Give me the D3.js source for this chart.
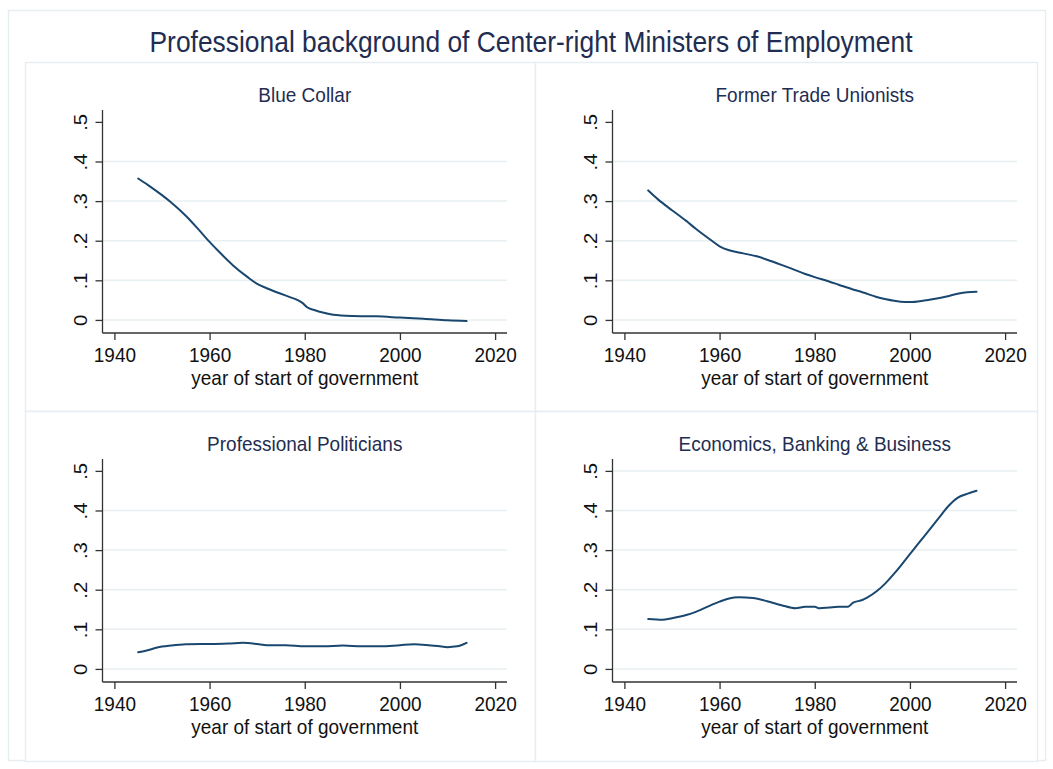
<!DOCTYPE html>
<html>
<head>
<meta charset="utf-8">
<script src="https://cdn.jsdelivr.net/npm/d3@7"></script>
<style>
  html, body { margin: 0; padding: 0; background: #fff; }
  svg { display: block; font-family: "Liberation Sans", Arial, Helvetica, sans-serif; }
</style>
</head>
<body>
<svg id="chart" width="1053" height="769"></svg>
<script>
// Lowess-smoothed shares by year of start of government
const blueCollar = [
  [1945, .357], [1947, .341], [1950, .315], [1952, .296], [1955, .263], [1958, .224],
  [1960, .197], [1962, .172], [1965, .137], [1968, .108], [1970, .091], [1972, .080],
  [1975, .066], [1977, .057], [1978.5, .050], [1979.5, .043], [1980.5, .032], [1982, .025],
  [1984, .018], [1986, .013], [1990, .010], [1995, .009], [2000, .006], [2005, .003],
  [2010, -.001], [2014, -.003]
];
const tradeUnionists = [
  [1945, .327], [1947, .305], [1950, .277], [1953, .250], [1955, .230], [1958, .203],
  [1960, .186], [1962, .176], [1965, .168], [1968, .160], [1970, .152], [1973, .139],
  [1975, .130], [1978, .116], [1980, .108], [1983, .097], [1985, .089], [1988, .077],
  [1990, .070], [1993, .058], [1995, .052], [1998, .046], [2000, .045], [2003, .049],
  [2005, .053], [2008, .060], [2010, .066], [2012, .070], [2014, .071]
];
const politicians = [
  [1945, .042], [1947, .047], [1949, .054], [1952, .059], [1955, .062], [1960, .063],
  [1964, .064], [1967, .066], [1970, .063], [1972, .060], [1976, .060], [1980, .057],
  [1984, .057], [1988, .059], [1992, .057], [1996, .057], [2000, .060], [2003, .062],
  [2006, .060], [2008, .058], [2010, .055], [2012, .057], [2014, .066]
];
const economics = [
  [1945, .126], [1948, .124], [1950, .128], [1953, .136], [1955, .144], [1958, .160],
  [1960, .170], [1962, .178], [1964, .181], [1967, .179], [1970, .171], [1973, .161],
  [1976, .153], [1978, .157], [1980, .157], [1981, .153], [1983, .155], [1985, .157],
  [1987, .157], [1988, .167], [1990, .174], [1991, .180], [1993, .196], [1995, .218],
  [1997, .245], [2000, .290], [2002, .320], [2004, .350], [2006, .380], [2008, .410],
  [2010, .432], [2012, .442], [2014, .450]
];

const panelTitles = ["Blue Collar", "Former Trade Unionists", "Professional Politicians", "Economics, Banking & Business"];
const panelSeries = [blueCollar, tradeUnionists, politicians, economics];
const xTicks = [1940, 1960, 1980, 2000, 2020];
const yTicks = [0, .1, .2, .3, .4, .5];
const yTickLabels = ["0", ".1", ".2", ".3", ".4", ".5"];
const mainTitle = "Professional background of Center-right Ministers of Employment";
const xAxisTitle = "year of start of government";

const svg = d3.select("#chart");
const navy = "#1a476f";
const titleColor = "#1f2d52";
const frameColor = "#e6eef1";
const gridColor = "#e8eff2";
const stretch = 1.1;   // glyphs are drawn slightly taller than wide

// outer graph region
svg.append("rect").attr("x", 8.5).attr("y", 10.5).attr("width", 1037).attr("height", 750)
  .attr("fill", "#fff").attr("stroke", frameColor).attr("stroke-width", 1.5);

svg.append("text").attr("text-anchor", "middle")
  .attr("transform", `translate(531,52) scale(1,${stretch})`)
  .attr("fill", titleColor).attr("font-size", 26.4).text(mainTitle);

const cols = [25, 535, 1037];
const rows = [62, 411, 761];

panelSeries.forEach((series, i) => {
  const c = i % 2, r = Math.floor(i / 2);
  const px = cols[c], py = rows[r];
  const pw = cols[c + 1] - px, ph = rows[r + 1] - py;
  const g = svg.append("g").attr("transform", `translate(${px},${py})`);

  g.append("rect").attr("x", 0.5).attr("y", 0.5).attr("width", pw).attr("height", ph)
    .attr("fill", "#fff").attr("stroke", frameColor).attr("stroke-width", 1.5);

  const left = 77.5, right = 482, top = 48, bottom = 271;
  const x = d3.scaleLinear().domain([1937.5, 2022.5]).range([left, right]);
  const y = d3.scaleLinear().domain([-0.033, 0.53]).range([bottom, top]);

  // horizontal grid
  const gridVals = i === 3 ? yTicks : yTicks.slice(0, 5);
  g.append("g").selectAll("line").data(gridVals).join("line")
    .attr("x1", left).attr("x2", right)
    .attr("y1", d => y(d)).attr("y2", d => y(d))
    .attr("stroke", gridColor).attr("stroke-width", 1.5);

  // y axis
  const yAxis = g.append("g").attr("transform", `translate(${left},0)`)
    .call(d3.axisLeft(y).tickValues(yTicks).tickSize(7).tickFormat((d, k) => yTickLabels[k]));
  yAxis.select(".domain").attr("stroke", "#333").attr("stroke-width", 1.3)
    .attr("d", `M0,${bottom}V${top}`);
  yAxis.selectAll(".tick line").attr("stroke", "#333").attr("stroke-width", 1.3);
  yAxis.selectAll(".tick text")
    .attr("x", null).attr("dy", null).attr("y", 0)
    .attr("transform", `translate(-16,0) scale(1,${stretch}) rotate(-90)`)
    .attr("text-anchor", "middle")
    .attr("font-size", 18.5).attr("fill", "#111")
    .attr("font-family", "Liberation Sans, Arial, sans-serif");

  // x axis
  const xAxis = g.append("g").attr("transform", `translate(0,${bottom})`)
    .call(d3.axisBottom(x).tickValues(xTicks).tickSize(7).tickFormat(d3.format("d")));
  xAxis.select(".domain").attr("stroke", "#333").attr("stroke-width", 1.3)
    .attr("d", `M${left},0H${right}`);
  xAxis.selectAll(".tick line").attr("stroke", "#333").attr("stroke-width", 1.3);
  xAxis.selectAll(".tick text").attr("y", 0).attr("dy", null)
    .attr("transform", `translate(0,28.5) scale(1,${stretch})`)
    .attr("font-size", 19).attr("fill", "#111")
    .attr("font-family", "Liberation Sans, Arial, sans-serif");

  g.append("text").attr("text-anchor", "middle")
    .attr("transform", `translate(${(left + right) / 2},322.5) scale(1,${stretch})`)
    .attr("font-size", 19).attr("fill", "#111").text(xAxisTitle);

  g.append("text").attr("text-anchor", "middle")
    .attr("transform", `translate(${(left + right) / 2},40) scale(1,${stretch})`)
    .attr("font-size", 19).attr("fill", titleColor).text(panelTitles[i]);

  const line = d3.line().x(d => x(d[0])).y(d => y(d[1])).curve(d3.curveMonotoneX);
  g.append("path").datum(series).attr("d", line)
    .attr("fill", "none").attr("stroke", navy).attr("stroke-width", 2)
    .attr("stroke-linejoin", "round").attr("stroke-linecap", "round");
});
</script>
</body>
</html>
